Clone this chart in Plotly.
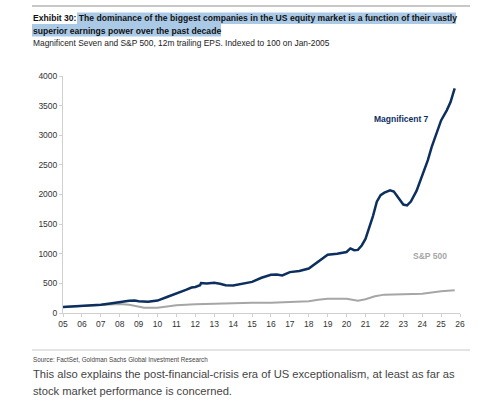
import plotly.graph_objects as go

# ---- data ----
mag7_years = [2005.0, 2005.5, 2006.0, 2006.5, 2007.0, 2007.5, 2008.0, 2008.5, 2008.8, 2009.0,
              2009.5, 2010.0, 2010.5, 2011.0, 2011.5, 2011.8, 2012.0, 2012.25, 2012.3, 2012.6,
              2013.0, 2013.3, 2013.6, 2014.0, 2014.5, 2015.0, 2015.5, 2016.0, 2016.3, 2016.6,
              2017.0, 2017.5, 2018.0, 2018.5, 2019.0, 2019.5, 2020.0, 2020.2, 2020.4, 2020.6,
              2020.8, 2021.0, 2021.2, 2021.4, 2021.6, 2021.8, 2022.0, 2022.3, 2022.5, 2022.8,
              2023.0, 2023.2, 2023.4, 2023.7, 2024.0, 2024.3, 2024.5, 2024.8, 2025.0, 2025.3,
              2025.5, 2025.65, 2025.72]
mag7_values = [100, 108, 115, 125, 140, 160, 185, 205, 210, 200,
               188, 210, 270, 325, 390, 430, 440, 470, 505, 500,
               510, 495, 470, 465, 495, 525, 595, 645, 650, 635,
               690, 710, 750, 860, 985, 1000, 1030, 1090, 1060, 1065,
               1140, 1250, 1440, 1640, 1880, 1990, 2030, 2070, 2050, 1930,
               1830, 1815, 1880, 2060, 2320, 2580, 2800, 3080, 3250, 3420,
               3560, 3720, 3790]

sp_years = [2005.0, 2006.0, 2007.0, 2008.0, 2008.5, 2009.0, 2009.3, 2010.0, 2010.5, 2011.0,
            2012.0, 2013.0, 2014.0, 2015.0, 2016.0, 2017.0, 2018.0, 2018.5, 2019.0, 2020.0,
            2020.3, 2020.6, 2021.0, 2021.5, 2022.0, 2023.0, 2024.0, 2025.0, 2025.72]
sp_values = [100, 113, 135, 152, 141, 113, 88, 90, 113, 130,
             146, 158, 169, 175, 175, 180, 197, 225, 242, 242,
             225, 208, 231, 282, 310, 315, 327, 366, 383]

x_tick_years = list(range(2005, 2027))
x_tick_labels = ["05", "06", "07", "08", "09", "10", "11", "12", "13", "14", "15",
                 "16", "17", "18", "19", "20", "21", "22", "23", "24", "25", "26"]
y_ticks = [0, 500, 1000, 1500, 2000, 2500, 3000, 3500, 4000]

NAVY = "#0c2f5f"
GREY = "#a6a6a6"
SANS = "Liberation Sans, Arial, sans-serif"

# plot area in pixels
L, R, T, B = 63, 460, 76, 313
W, H = 500, 408


def px(x):
    return (x - L) / (R - L)


def py(y):
    return (B - y) / (B - T)


fig = go.Figure()
fig.add_trace(go.Scatter(x=sp_years, y=sp_values, mode="lines",
                         line=dict(color=GREY, width=2), hoverinfo="skip"))
fig.add_trace(go.Scatter(x=mag7_years, y=mag7_values, mode="lines",
                         line=dict(color=NAVY, width=2.5), hoverinfo="skip"))

shapes = [
    # top rule
    dict(type="line", xref="paper", yref="paper", x0=px(32), x1=px(470), y0=py(6), y1=py(6),
         line=dict(color="#c8c8c8", width=2)),
    # title highlight boxes
    dict(type="rect", xref="paper", yref="paper", x0=px(77), x1=px(456), y0=py(24), y1=py(12.5),
         fillcolor="#a9c9e7", line=dict(width=0), layer="below"),
    dict(type="rect", xref="paper", yref="paper", x0=px(32), x1=px(221), y0=py(36.5), y1=py(24),
         fillcolor="#a9c9e7", line=dict(width=0), layer="below"),
    # bottom rule
    dict(type="line", xref="paper", yref="paper", x0=px(32), x1=px(470), y0=py(350), y1=py(350),
         line=dict(color="#c8c8c8", width=1)),
]

annotations = [
    dict(xref="paper", yref="paper", x=px(31), y=py(18.5), xanchor="left", yanchor="middle",
         showarrow=False, align="left",
         text="<b>Exhibit 30: The dominance of the biggest companies in the US equity market is a function of their vastly</b>",
         font=dict(family=SANS, size=8.6, color="#111111")),
    dict(xref="paper", yref="paper", x=px(31), y=py(30.5), xanchor="left", yanchor="middle",
         showarrow=False, align="left",
         text="<b>superior earnings power over the past decade</b>",
         font=dict(family=SANS, size=8.6, color="#111111")),
    dict(xref="paper", yref="paper", x=px(31), y=py(43), xanchor="left", yanchor="middle",
         showarrow=False, align="left",
         text="Magnificent Seven and S&P 500, 12m trailing EPS. Indexed to 100 on Jan-2005",
         font=dict(family=SANS, size=8.4, color="#222222")),
    dict(x=2022.9, y=3280, xref="x", yref="y", xanchor="center", yanchor="middle",
         showarrow=False, text="<b>Magnificent 7</b>",
         font=dict(family=SANS, size=8.5, color=NAVY)),
    dict(x=2024.42, y=960, xref="x", yref="y", xanchor="center", yanchor="middle",
         showarrow=False, text="<b>S&P 500</b>",
         font=dict(family=SANS, size=8.5, color=GREY)),
    dict(xref="paper", yref="paper", x=px(31), y=py(359), xanchor="left", yanchor="middle",
         showarrow=False, align="left",
         text="Source: FactSet, Goldman Sachs Global Investment Research",
         font=dict(family=SANS, size=6.3, color="#444444")),
    dict(xref="paper", yref="paper", x=px(31), y=py(374), xanchor="left", yanchor="middle",
         showarrow=False, align="left",
         text="This also explains the post-financial-crisis era of US exceptionalism, at least as far as",
         font=dict(family=SANS, size=11.2, color="#444444")),
    dict(xref="paper", yref="paper", x=px(31), y=py(391), xanchor="left", yanchor="middle",
         showarrow=False, align="left",
         text="stock market performance is concerned.",
         font=dict(family=SANS, size=11.2, color="#444444")),
]

fig.update_layout(
    width=W, height=H,
    margin=dict(l=L, r=W - R, t=T, b=H - B, pad=0),
    paper_bgcolor="white", plot_bgcolor="white",
    showlegend=False,
    shapes=shapes,
    annotations=annotations,
    xaxis=dict(range=[2005, 2026], tickvals=x_tick_years, ticktext=x_tick_labels,
               showgrid=False, zeroline=False, showline=True, linecolor="#d0d0d0", linewidth=1,
               ticks="outside", ticklen=3, tickcolor="#d0d0d0",
               tickfont=dict(family=SANS, size=8.5, color="#333333")),
    yaxis=dict(range=[0, 4000], tickvals=y_ticks,
               showgrid=False, zeroline=False, showline=True, linecolor="#d0d0d0", linewidth=1,
               ticks="outside", ticklen=3, tickcolor="#d0d0d0",
               tickfont=dict(family=SANS, size=8.5, color="#333333")),
)

fig.write_html("out.html")
